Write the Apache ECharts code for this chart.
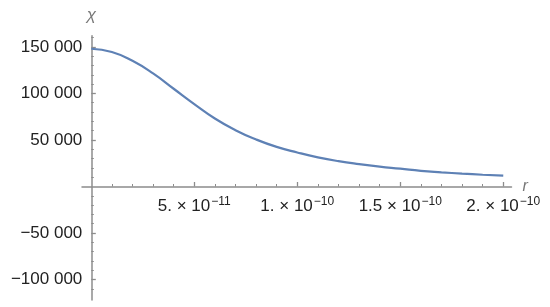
<!DOCTYPE html>
<html>
<head>
<meta charset="utf-8">
<script src="https://cdn.jsdelivr.net/npm/echarts@6/dist/echarts.min.js"></script>
<style>
  html, body { margin: 0; padding: 0; background: #fff; }
  #chart { width: 550px; height: 307px; }
</style>
</head>
<body>
<div id="chart"></div>
<script>
// r in units of 1e-11, chi
var rValues = [0, 1, 2, 3, 4, 5, 6, 7, 8, 9, 10, 11, 12, 13, 14, 15, 16, 17, 18, 19, 20];
var chiValues = [148000, 144500, 135000, 121500, 105000, 88500, 73000, 60500, 50500, 42500,
                 36500, 31300, 27200, 24000, 21300, 19100, 16800, 15200, 13800, 12600, 11600];

var xMajorTicks = [5e-11, 1e-10, 1.5e-10, 2e-10];
var xTickMantissa = ['5.', '1.', '1.5', '2.'];
var xTickExponent = ['−11', '−10', '−10', '−10'];
var xMinorTicks = [1e-11, 2e-11, 3e-11, 4e-11, 6e-11, 7e-11, 8e-11, 9e-11,
                   1.1e-10, 1.2e-10, 1.3e-10, 1.4e-10, 1.6e-10, 1.7e-10, 1.8e-10, 1.9e-10];
var yMajorTicks = [-100000, -50000, 50000, 100000, 150000];
var yMinorTicks = [-110000, -90000, -80000, -70000, -60000, -40000, -30000, -20000, -10000,
                   10000, 20000, 30000, 40000, 60000, 70000, 80000, 90000,
                   110000, 120000, 130000, 140000, 160000];

var axisGray = '#8c8c8c';
var labelColor = '#222';
var font = '"Liberation Sans", Arial, sans-serif';

var points = rValues.map(function (r, i) { return [r * 1e-11, chiValues[i]]; });

function fmtY(v) {
    var s = String(Math.abs(v));
    s = s.slice(0, s.length - 3) + ' ' + s.slice(-3);
    return (v < 0 ? '\u2212' : '') + s;
}

// axes sit at the grid edges and are shifted onto the origin with offset
var xOffset = -113.5;
var yOffset = -9.3;

var chart = echarts.init(document.getElementById('chart'));
chart.setOption({
    animation: false,
    grid: { left: 82, right: 38.5, top: 35.7, bottom: 7, containLabel: false, outerBoundsMode: 'none' },
    xAxis: [{
        type: 'value',
        position: 'bottom',
        min: -0.45e-11,
        max: 2.04e-10,
        offset: xOffset,
        splitLine: { show: false },
        axisLine: { show: true, onZero: false, lineStyle: { color: axisGray, width: 1.5 } },
        axisTick: { show: true, inside: true, length: 4.5, customValues: xMajorTicks, lineStyle: { color: axisGray, width: 1.3 } },
        axisLabel: {
            customValues: xMajorTicks,
            margin: 9,
            formatter: function (v) {
                var i = xMajorTicks.indexOf(v);
                if (i < 0) return '';
                return '{b|' + xTickMantissa[i] + ' \u00d7 10}{s|' + xTickExponent[i] + '}';
            },
            rich: {
                b: { fontFamily: font, fontSize: 17, color: labelColor, verticalAlign: 'bottom', lineHeight: 19 },
                s: { fontFamily: font, fontSize: 12, color: labelColor, verticalAlign: 'top', lineHeight: 19, padding: [0, 0, 0, 1] }
            }
        },
        name: 'r',
        nameLocation: 'end',
        nameGap: 11,
        nameTextStyle: { fontFamily: font, fontSize: 16, fontStyle: 'italic', color: '#777', verticalAlign: 'middle' }
    }, {
        type: 'value',
        position: 'bottom',
        min: -0.45e-11,
        max: 2.04e-10,
        offset: xOffset,
        splitLine: { show: false },
        axisLine: { show: false, onZero: false },
        axisTick: { show: true, inside: true, length: 2.5, customValues: xMinorTicks, lineStyle: { color: axisGray, width: 1 } },
        axisLabel: { show: false }
    }],
    yAxis: [{
        type: 'value',
        position: 'left',
        min: -122000,
        max: 162000,
        offset: yOffset,
        splitLine: { show: false },
        axisLine: { show: true, onZero: false, lineStyle: { color: axisGray, width: 1.5 } },
        axisTick: { show: true, inside: true, length: 4.5, customValues: yMajorTicks, lineStyle: { color: axisGray, width: 1.3 } },
        axisLabel: {
            customValues: yMajorTicks,
            margin: 9,
            fontFamily: font,
            fontSize: 17,
            color: labelColor,
            formatter: fmtY
        },
        name: 'χ',
        nameLocation: 'end',
        nameGap: 12,
        nameTextStyle: { fontFamily: font, fontSize: 17, fontStyle: 'italic', color: '#777', align: 'center' }
    }, {
        type: 'value',
        position: 'left',
        min: -122000,
        max: 162000,
        offset: yOffset,
        splitLine: { show: false },
        axisLine: { show: false, onZero: false },
        axisTick: { show: true, inside: true, length: 2.5, customValues: yMinorTicks, lineStyle: { color: axisGray, width: 1 } },
        axisLabel: { show: false }
    }],
    series: [{
        type: 'line',
        data: points,
        smooth: true,
        showSymbol: false,
        lineStyle: { color: '#5e81b5', width: 2.2 }
    }]
});
</script>
</body>
</html>
